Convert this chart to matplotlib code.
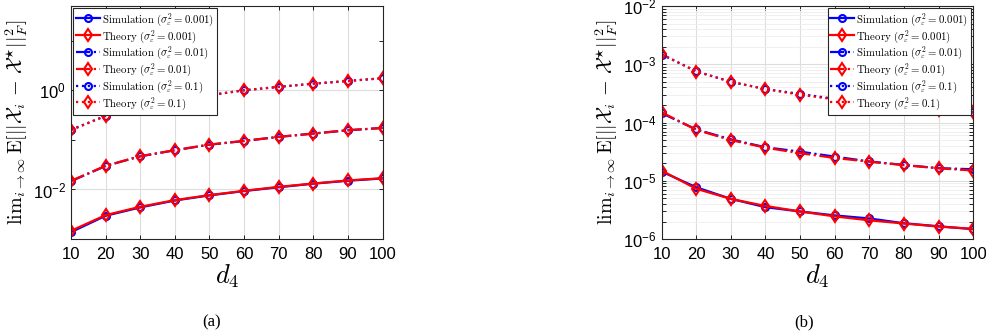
import matplotlib.pyplot as plt
import numpy as np
from matplotlib.ticker import LogLocator, NullFormatter

plt.rcParams['mathtext.fontset'] = 'cm'
plt.rcParams['font.family'] = ['Liberation Sans', 'DejaVu Sans']

d4 = [10, 20, 30, 40, 50, 60, 70, 80, 90, 100]
noise = ['0.001', '0.01', '0.1']

# (a) values
sim_a = [
    [1.38e-3, 2.95e-3, 4.35e-3, 6.0e-3, 7.6e-3, 9.3e-3, 0.0111, 0.0131, 0.0150, 0.0167],
    [0.0147, 0.0298, 0.0466, 0.0618, 0.0800, 0.0950, 0.1150, 0.1340, 0.1560, 0.1740],
    [0.160, 0.305, 0.460, 0.630, 0.795, 1.000, 1.170, 1.360, 1.540, 1.750],
]
th_a = [
    [1.47e-3, 3.04e-3, 4.48e-3, 6.1e-3, 7.7e-3, 9.4e-3, 0.0113, 0.0132, 0.0152, 0.0169],
    [0.0149, 0.0300, 0.0469, 0.0620, 0.0805, 0.0955, 0.1150, 0.1340, 0.1570, 0.1740],
    [0.157, 0.304, 0.461, 0.630, 0.794, 1.000, 1.170, 1.360, 1.540, 1.750],
]

# (b) values
sim_b = [
    [1.44e-5, 7.76e-6, 4.9e-6, 3.53e-6, 2.98e-6, 2.55e-6, 2.26e-6, 1.87e-6, 1.66e-6, 1.48e-6],
    [1.45e-4, 7.6e-5, 5.15e-5, 3.76e-5, 3.17e-5, 2.6e-5, 2.15e-5, 1.87e-5, 1.65e-5, 1.58e-5],
    [1.47e-3, 7.6e-4, 5.0e-4, 3.75e-4, 3.1e-4, 2.55e-4, 2.1e-4, 1.87e-4, 1.64e-4, 1.49e-4],
]
th_b = [
    [1.5e-5, 7.3e-6, 4.9e-6, 3.7e-6, 2.98e-6, 2.45e-6, 2.1e-6, 1.85e-6, 1.64e-6, 1.5e-6],
    [1.5e-4, 7.5e-5, 5.0e-5, 3.7e-5, 2.98e-5, 2.47e-5, 2.13e-5, 1.86e-5, 1.64e-5, 1.5e-5],
    [1.5e-3, 7.5e-4, 5.0e-4, 3.75e-4, 3.0e-4, 2.5e-4, 2.14e-4, 1.87e-4, 1.66e-4, 1.5e-4],
]

styles = ['-', '-.', ':']
ylab = r'$\mathrm{lim}_{i\to\infty}\,\mathrm{E}[||\mathcal{X}_i\,-\,\mathcal{X}^{\star}||_F^2]$'

fig = plt.figure(figsize=(9.86, 3.33), dpi=100)
ax1 = fig.add_axes([0.072, 0.282, 0.316, 0.700])
ax2 = fig.add_axes([0.671, 0.282, 0.316, 0.700])


def draw(ax, sim, th, loc):
    for k in range(3):
        ax.plot(d4, sim[k], color='blue', ls=styles[k], lw=1.6, marker='o',
                ms=5, mfc='none', mew=1.5,
                label=r'$\mathrm{Simulation}\ (\sigma_\varepsilon^2=%s)$' % noise[k])
        ax.plot(d4, th[k], color='red', ls=styles[k], lw=1.6, marker='d',
                ms=6, mfc='none', mew=1.5,
                label=r'$\mathrm{Theory}\ (\sigma_\varepsilon^2=%s)$' % noise[k])
    ax.set_yscale('log')
    ax.set_xlim(10, 100)
    ax.set_xticks(d4)
    ax.tick_params(direction='in', labelsize=12, which='both', top=True, right=True,
                   length=3, width=0.6)
    ax.tick_params(axis='x', pad=6)
    for s in ax.spines.values():
        s.set_linewidth(0.8)
        s.set_color('#262626')
    ax.set_xlabel(r'$d_4$', fontsize=19, labelpad=0)
    ax.set_ylabel(ylab, fontsize=14.5, labelpad=2)
    leg = ax.legend(loc=loc, fontsize=7.8, frameon=True, fancybox=False,
                    edgecolor='#262626', framealpha=1, handlelength=2.2,
                    handletextpad=0.2, labelspacing=0.0, borderpad=0.25,
                    borderaxespad=0.2)
    leg.get_frame().set_linewidth(0.8)
    return leg


draw(ax1, sim_a, th_a, 'upper left')
ax1.set_ylim(1e-3, 50)
ax1.set_yticks([1e-2, 1])
ax1.yaxis.set_minor_locator(LogLocator(base=10, subs=[], numticks=10))
ax1.yaxis.set_minor_formatter(NullFormatter())
ax1.grid(True, which='major', color='#dddddd', lw=0.8)
ax1.set_axisbelow(True)

draw(ax2, sim_b, th_b, 'upper right')
ax2.set_ylim(1e-6, 1e-2)
ax2.set_yticks([1e-6, 1e-5, 1e-4, 1e-3, 1e-2])
ax2.yaxis.set_minor_locator(LogLocator(base=10, subs=np.arange(2, 10), numticks=10))
ax2.yaxis.set_minor_formatter(NullFormatter())
ax2.grid(True, which='major', color='#dddddd', lw=0.8)
ax2.grid(True, which='minor', axis='y', color='#eeeeee', lw=0.6)
ax2.set_axisbelow(True)

fig.text(0.215, 0.02, '(a)', fontsize=12, family='Liberation Serif', ha='center')
fig.text(0.815, 0.02, '(b)', fontsize=12, family='Liberation Serif', ha='center')

fig.savefig('out.png', dpi=100)
